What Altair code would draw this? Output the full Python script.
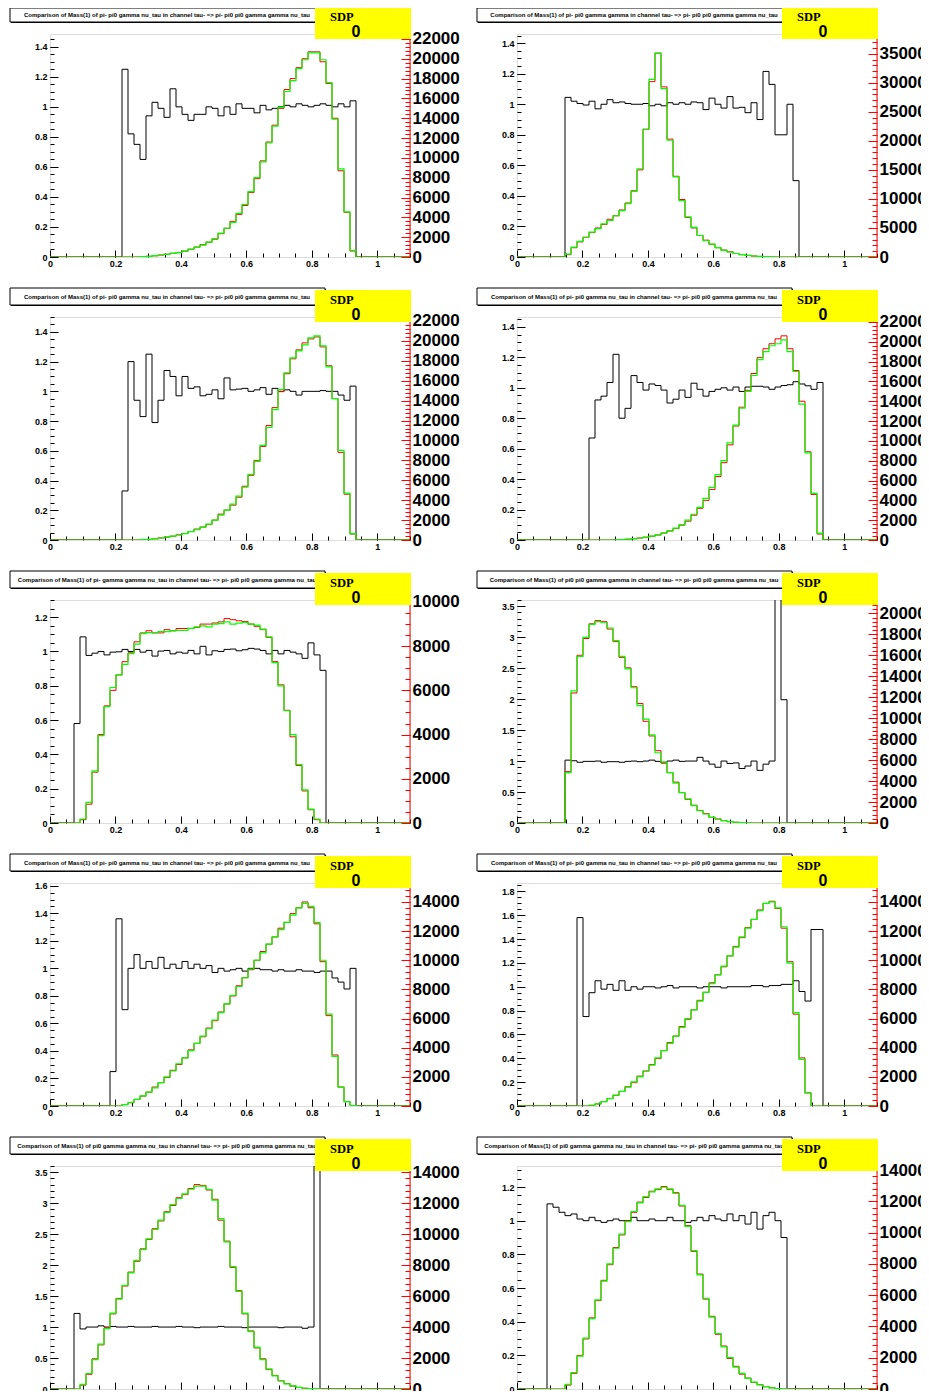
import altair as alt
import pandas as pd

N_BINS = 60
X_LO, X_HI = 0.0, 1.1

TITLES = [
    "Comparison of Mass(1) of pi- pi0 gamma nu_tau in channel tau- => pi- pi0 pi0 gamma gamma nu_tau",
    "Comparison of Mass(1) of pi- pi0 gamma gamma in channel tau- => pi- pi0 pi0 gamma gamma nu_tau",
    "Comparison of Mass(1) of pi- pi0 gamma nu_tau in channel tau- => pi- pi0 pi0 gamma gamma nu_tau",
    "Comparison of Mass(1) of pi- pi0 gamma nu_tau in channel tau- => pi- pi0 pi0 gamma gamma nu_tau",
    "Comparison of Mass(1) of pi- gamma gamma nu_tau in channel tau- => pi- pi0 pi0 gamma gamma nu_tau",
    "Comparison of Mass(1) of pi0 pi0 gamma gamma in channel tau- => pi- pi0 pi0 gamma gamma nu_tau",
    "Comparison of Mass(1) of pi- pi0 gamma nu_tau in channel tau- => pi- pi0 pi0 gamma gamma nu_tau",
    "Comparison of Mass(1) of pi- pi0 gamma nu_tau in channel tau- => pi- pi0 pi0 gamma gamma nu_tau",
    "Comparison of Mass(1) of pi0 gamma gamma nu_tau in channel tau- => pi- pi0 pi0 gamma gamma nu_tau",
    "Comparison of Mass(1) of pi0 gamma gamma nu_tau in channel tau- => pi- pi0 pi0 gamma gamma nu_tau",
]

# axis ranges (left = ratio, right = counts)
LEFT_MAX = [1.485, 1.46, 1.50, 1.465, 1.30, 3.6, 1.62, 1.87, 3.6, 1.325]
RIGHT_MAX = [22500, 38400, 22400, 22500, 10090, 21270, 15300, 15300, 14400, 14260]
LEFT_MAJOR = [0.2, 0.2, 0.2, 0.2, 0.2, 0.5, 0.2, 0.2, 0.5, 0.2]
LEFT_MINOR = [0.05, 0.05, 0.05, 0.05, 0.05, 0.1, 0.05, 0.05, 0.1, 0.05]
RIGHT_MAJOR = [2000, 5000, 2000, 2000, 2000, 2000, 2000, 2000, 2000, 2000]
RIGHT_MINOR = [400, 1000, 400, 400, 500, 400, 400, 400, 400, 400]

# first non-empty bin of each series (bin width 1.1/60)
BLACK_START = [12, 8, 12, 12, 4, 8, 10, 10, 4, 5]
GREEN_START = [15, 8, 15, 16, 5, 8, 12, 12, 5, 8]

# ratio histograms (black)
BLACK1 = [1.25, 0.82, 0.75, 0.65, 0.94, 1.03, 0.99, 0.93, 1.12, 1.00, 0.95, 0.91, 0.95, 0.95, 1.00,
          0.99, 0.94, 1.00, 0.95, 1.02, 0.99, 0.99, 0.96, 1.01, 0.98, 0.99, 1.00, 1.01, 1.00, 1.02,
          1.01, 1.00, 1.01, 1.02, 1.01, 1.00, 1.02, 1.00, 1.04]
BLACK2 = [1.045, 1.02, 1.005, 0.995, 1.02, 0.97, 1.0, 1.03, 1.01, 1.015, 1.005, 1.0, 1.0, 1.005, 0.99,
          1.0, 0.99, 1.01, 1.0, 1.01, 1.0, 1.015, 1.01, 0.965, 1.04, 1.0, 0.975, 1.05, 0.975, 0.98,
          0.945, 1.01, 0.9, 1.215, 1.13, 0.8, 0.8, 1.0, 0.5]
BLACK3 = [0.33, 1.2, 0.94, 0.83, 1.25, 0.79, 0.94, 1.14, 1.1, 0.97, 1.1, 1.02, 1.03, 0.97, 0.98,
          1.01, 0.95, 1.09, 1.01, 1.015, 1.02, 1.0, 1.01, 1.025, 0.98, 1.02, 1.0, 1.01, 1.0, 0.975,
          1.0, 1.0, 1.0, 1.005, 1.0, 1.0, 0.975, 0.94, 1.035]
BLACK4 = [0.67, 0.92, 0.945, 1.035, 1.22, 0.8, 0.865, 1.08, 1.035, 0.985, 1.025, 1.015, 0.985, 0.9, 0.925,
          0.985, 0.937, 1.03, 0.99, 0.945, 0.976, 0.99, 1.0, 0.985, 1.005, 0.976, 1.005, 1.01, 1.01, 1.005,
          0.99, 1.005, 1.015, 1.02, 1.04, 1.025, 1.013, 0.99, 1.035]
BLACK5 = [0.58, 1.085, 0.977, 0.99, 1.0, 0.98, 0.996, 0.998, 1.012, 1.0, 1.012, 0.996, 1.006, 0.973, 1.002,
          1.006, 0.986, 0.996, 0.99, 1.006, 0.986, 1.03, 0.98, 1.004, 1.0, 1.012, 1.014, 1.004, 1.01, 1.018,
          1.014, 1.006, 0.986, 1.006, 0.986, 1.006, 0.996, 0.986, 0.96, 1.05, 0.98, 0.89]
BLACK6 = [1.015, 1.005, 0.98, 0.995, 0.995, 1.0, 0.98, 0.99, 0.99, 0.98, 0.995, 1.0, 0.99, 1.0, 1.015,
          0.995, 0.98, 1.0, 1.015, 0.995, 1.0, 1.0, 1.06, 1.0, 0.95, 0.9, 1.0, 0.96, 0.97, 0.88,
          0.92, 1.0, 0.85, 0.95, 1.0, 4.2, 1.99]
BLACK7 = [0.25, 1.36, 0.7, 1.0, 1.1, 1.0, 1.05, 1.0, 1.08, 1.0, 1.03, 1.0, 1.05, 1.0, 1.03,
          1.0, 1.02, 0.97, 1.0, 0.98, 0.99, 1.0, 0.98, 1.0, 1.0, 0.99, 0.99, 0.98, 0.99, 0.98,
          0.98, 0.99, 0.98, 0.98, 0.97, 0.98, 0.98, 0.93, 0.9, 0.85, 1.0]
BLACK8 = [1.58, 0.75, 0.95, 1.05, 0.98, 1.02, 0.97, 1.05, 0.97, 1.0, 0.98, 1.0, 1.0, 0.99, 1.0,
          1.01, 0.99, 1.0, 1.0, 1.0, 0.99, 1.0, 1.0, 1.0, 0.99, 1.0, 1.0, 1.0, 1.0, 1.01,
          1.01, 1.0, 1.01, 1.01, 1.02, 1.02, 1.05, 0.96, 0.88, 1.48, 1.48]
BLACK9 = [1.22, 0.97, 1.0, 1.0, 1.02, 1.0, 1.01, 1.0, 1.0, 1.01, 1.0, 1.0, 1.0, 1.01, 1.0,
          1.0, 1.0, 1.01, 1.0, 1.0, 0.99, 1.0, 1.0, 1.0, 1.01, 1.0, 1.0, 1.0, 0.99, 1.0,
          1.0, 1.0, 1.0, 1.0, 0.99, 1.0, 1.0, 1.0, 0.98, 1.0, 5.0]
BLACK10 = [1.1, 1.08, 1.05, 1.03, 1.04, 1.01, 1.0, 1.02, 1.0, 0.99, 1.0, 1.01, 1.0, 1.0, 1.02,
           1.0, 1.0, 1.01, 1.0, 1.0, 1.02, 1.0, 1.0, 0.99, 1.0, 1.02, 1.0, 1.03, 1.01, 1.0,
           1.04, 1.0, 1.03, 0.98, 1.05, 0.95, 1.03, 1.05, 1.0, 0.9]

# green histograms (thousands of entries)
GREEN1 = [0.03, 0.07, 0.13, 0.2, 0.27, 0.37, 0.45, 0.6, 0.8, 1.0, 1.2, 1.5, 1.85, 2.4, 2.9,
          3.5, 4.4, 5.3, 6.6, 8.0, 9.6, 11.5, 13.2, 15.1, 16.7, 17.8, 19.0, 19.9, 20.6, 20.6,
          19.9, 17.6, 13.9, 8.9, 4.55, 0.67]
GREEN2 = [0.5, 1.7, 2.7, 3.4, 4.3, 4.9, 5.7, 6.3, 7.1, 8.0, 9.2, 11.3, 15.2, 22.0, 30.6,
          35.1, 29.0, 20.1, 13.8, 9.7, 6.9, 5.1, 3.7, 2.8, 2.2, 1.6, 1.15, 0.86, 0.6, 0.4,
          0.28, 0.17, 0.1, 0.05, 0.02]
GREEN3 = [0.03, 0.07, 0.12, 0.2, 0.28, 0.38, 0.5, 0.65, 0.85, 1.05, 1.3, 1.6, 2.0, 2.5, 3.0,
          3.6, 4.4, 5.3, 6.6, 7.9, 9.5, 11.3, 13.1, 15.1, 16.8, 18.3, 19.0, 19.6, 20.3, 20.5,
          19.5, 17.4, 14.2, 9.0, 4.7, 0.65]
GREEN4 = [0.02, 0.04, 0.08, 0.13, 0.2, 0.3, 0.4, 0.55, 0.72, 0.95, 1.2, 1.55, 2.0, 2.6, 3.3,
          4.2, 5.3, 6.6, 8.0, 9.8, 11.6, 13.3, 15.0, 16.6, 18.2, 19.0, 19.6, 19.8, 20.2, 19.0,
          17.0, 13.7, 8.8, 4.7, 0.7]
GREEN5 = [0.18, 0.93, 2.36, 3.95, 5.27, 6.13, 6.7, 7.18, 7.66, 8.09, 8.57, 8.61, 8.61, 8.66, 8.66,
          8.69, 8.72, 8.72, 8.81, 8.87, 8.92, 8.87, 9.0, 9.02, 9.1, 9.0, 9.04, 9.08, 9.0, 8.95,
          8.77, 8.42, 7.26, 6.2, 5.08, 4.0, 2.64, 1.5, 0.63, 0.18]
GREEN6 = [4.8, 12.6, 15.9, 17.7, 18.95, 19.2, 19.1, 18.6, 17.4, 15.9, 14.7, 12.9, 11.2, 9.9, 8.4,
          6.7, 5.8, 4.8, 3.8, 2.9, 2.3, 1.65, 1.17, 0.86, 0.54, 0.38, 0.22, 0.13, 0.07, 0.03, 0.01]
GREEN7 = [0.1, 0.25, 0.45, 0.7, 0.95, 1.25, 1.6, 2.0, 2.4, 2.9, 3.3, 3.8, 4.3, 4.8, 5.3,
          5.9, 6.4, 7.0, 7.6, 8.2, 8.8, 9.4, 10.0, 10.5, 11.1, 11.6, 12.1, 12.6, 13.1, 13.6,
          13.9, 13.7, 12.6, 10.0, 6.3, 3.4, 1.3, 0.3, 0.03]
GREEN8 = [0.05, 0.15, 0.3, 0.5, 0.75, 1.0, 1.3, 1.65, 2.0, 2.4, 2.8, 3.3, 3.8, 4.3, 4.8,
          5.4, 6.0, 6.6, 7.2, 7.8, 8.4, 9.0, 9.6, 10.3, 10.9, 11.6, 12.2, 12.8, 13.4, 13.9,
          14.0, 13.6, 12.3, 9.8, 6.4, 3.2, 0.9]
GREEN9 = [0.3, 1.0, 1.9, 2.9, 3.9, 4.9, 5.8, 6.7, 7.5, 8.3, 9.0, 9.7, 10.3, 10.9, 11.4,
          11.9, 12.3, 12.6, 12.9, 13.1, 13.1, 12.9, 12.2, 11.0, 9.5, 7.9, 6.3, 4.9, 3.7, 2.7,
          1.9, 1.3, 0.85, 0.55, 0.33, 0.2, 0.1, 0.05, 0.02, 0.01]
GREEN10 = [0.3, 1.05, 2.1, 3.25, 4.5, 5.7, 6.9, 8.0, 9.0, 9.9, 10.7, 11.35, 11.9, 12.3, 12.6,
           12.8, 12.9, 12.8, 12.5, 11.75, 10.4, 8.85, 7.3, 5.8, 4.6, 3.55, 2.7, 2.0, 1.4, 1.0,
           0.68, 0.44, 0.26, 0.15, 0.07, 0.03, 0.01]

# red histograms (thousands of entries)
RED1 = [0.03, 0.07, 0.12, 0.2, 0.28, 0.38, 0.47, 0.6, 0.78, 1.0, 1.25, 1.5, 1.8, 2.35, 2.9,
        3.6, 4.3, 5.2, 6.5, 7.9, 9.7, 11.6, 13.3, 15.0, 16.9, 18.0, 19.1, 20.0, 20.7, 20.7,
        19.7, 17.5, 14.0, 8.7, 4.5, 0.6]
RED2 = [0.4, 1.6, 2.6, 3.4, 4.2, 5.0, 5.6, 6.5, 7.1, 8.1, 9.3, 11.4, 15.0, 22.0, 30.2,
        35.1, 29.3, 20.3, 13.9, 9.9, 6.8, 5.0, 3.7, 2.9, 2.2, 1.6, 1.2, 0.9, 0.6, 0.4,
        0.28, 0.17, 0.1, 0.05, 0.02]
RED3 = [0.03, 0.06, 0.12, 0.21, 0.3, 0.38, 0.52, 0.66, 0.85, 1.1, 1.3, 1.55, 2.0, 2.6, 3.0,
        3.5, 4.3, 5.4, 6.5, 8.0, 9.4, 11.5, 13.3, 14.9, 16.7, 18.2, 19.1, 19.8, 20.2, 20.4,
        19.4, 17.5, 14.2, 8.8, 4.6, 0.6]
RED4 = [0.02, 0.04, 0.07, 0.12, 0.2, 0.28, 0.38, 0.5, 0.7, 0.9, 1.15, 1.5, 1.9, 2.5, 3.2,
        4.0, 5.1, 6.4, 7.8, 9.6, 11.5, 13.4, 15.1, 16.8, 18.4, 19.3, 19.8, 20.3, 20.6, 19.3,
        17.1, 14.0, 8.9, 4.6, 0.6]
RED5 = [0.15, 0.85, 2.3, 4.0, 5.3, 6.0, 6.7, 7.3, 7.7, 8.2, 8.6, 8.7, 8.6, 8.6, 8.75,
        8.7, 8.8, 8.8, 8.8, 8.85, 9.0, 9.0, 9.05, 9.1, 9.25, 9.2, 9.15, 9.12, 9.0, 8.9,
        8.75, 8.4, 7.3, 6.25, 5.1, 3.9, 2.6, 1.45, 0.6, 0.15]
RED6 = [4.9, 12.4, 16.0, 17.6, 19.0, 19.3, 19.2, 18.5, 17.3, 15.8, 14.8, 13.0, 11.4, 9.7, 8.3,
        6.9, 5.7, 4.8, 3.9, 2.9, 2.25, 1.7, 1.2, 0.9, 0.55, 0.38, 0.22, 0.13, 0.07, 0.03, 0.01]
RED7 = [0.1, 0.22, 0.45, 0.68, 0.95, 1.3, 1.6, 1.95, 2.45, 2.85, 3.3, 3.85, 4.3, 4.75, 5.35,
        5.85, 6.45, 7.0, 7.55, 8.25, 8.8, 9.35, 10.0, 10.6, 11.1, 11.6, 12.2, 12.6, 13.2, 13.6,
        14.0, 13.6, 12.5, 9.9, 6.2, 3.5, 1.3, 0.3, 0.03]
RED8 = [0.05, 0.14, 0.3, 0.52, 0.73, 1.0, 1.32, 1.6, 2.05, 2.4, 2.85, 3.25, 3.8, 4.35, 4.8,
        5.45, 5.95, 6.6, 7.25, 7.8, 8.45, 9.0, 9.55, 10.3, 10.95, 11.55, 12.25, 12.8, 13.45, 13.9,
        14.05, 13.55, 12.2, 9.9, 6.3, 3.3, 0.9]
RED9 = [0.25, 0.95, 1.95, 2.85, 3.95, 4.85, 5.85, 6.65, 7.55, 8.25, 9.05, 9.65, 10.35, 10.85, 11.45,
        11.85, 12.35, 12.55, 12.95, 13.2, 13.15, 12.85, 12.25, 10.9, 9.55, 7.85, 6.35, 4.85, 3.75, 2.65,
        1.95, 1.25, 0.88, 0.52, 0.35, 0.18, 0.1, 0.05, 0.02, 0.01]
RED10 = [0.25, 1.0, 2.15, 3.2, 4.55, 5.65, 6.95, 7.95, 9.05, 9.85, 10.75, 11.3, 11.95, 12.25, 12.65,
         12.75, 12.95, 12.75, 12.55, 11.7, 10.45, 8.8, 7.35, 5.75, 4.65, 3.5, 2.75, 1.95, 1.45, 0.95,
         0.7, 0.42, 0.28, 0.14, 0.08, 0.03, 0.01]

BLACKS = [BLACK1, BLACK2, BLACK3, BLACK4, BLACK5, BLACK6, BLACK7, BLACK8, BLACK9, BLACK10]
GREENS = [GREEN1, GREEN2, GREEN3, GREEN4, GREEN5, GREEN6, GREEN7, GREEN8, GREEN9, GREEN10]
REDS = [RED1, RED2, RED3, RED4, RED5, RED6, RED7, RED8, RED9, RED10]

X_MAJOR = [0, 0.2, 0.4, 0.6, 0.8, 1.0]

W, H = 360, 223
FONT = "Liberation Sans"


def step_table(start, vals, factor=1.0):
    heights = [0.0] * N_BINS
    for i, v in enumerate(vals):
        heights[start + i] = v * factor
    edges = [X_LO + (X_HI - X_LO) * i / N_BINS for i in range(N_BINS + 1)]
    return pd.DataFrame({"x": edges, "y": heights + [heights[-1]]})


def ticks(step, top):
    n = int(top / step + 1e-9)
    return [round(i * step, 6) for i in range(n + 1)]


AX = dict(grid=False, domain=False, labelFont=FONT, labelFontWeight="bold",
          labelColor="black", tickColor="black", labelFlush=False, labelOverlap=False)


def panel(i, tb_top, yb_top):
    xs = alt.Scale(domain=[X_LO, X_HI], nice=False, zero=False)
    ls = alt.Scale(domain=[0, LEFT_MAX[i]], nice=False)
    rs = alt.Scale(domain=[0, RIGHT_MAX[i]], nice=False)

    black = step_table(BLACK_START[i], BLACKS[i])
    red = step_table(GREEN_START[i], REDS[i], 1000.0)
    green = step_table(GREEN_START[i], GREENS[i], 1000.0)

    x_major = alt.Axis(values=X_MAJOR, format="~g", orient="bottom", offset=-7, tickSize=7,
                       labelPadding=2, labelFontSize=9, **AX)
    x_minor = alt.Axis(values=ticks(0.05, 1.1), labels=False, orient="bottom", offset=-4,
                       tickSize=4, **AX)
    l_major = alt.Axis(values=ticks(LEFT_MAJOR[i], LEFT_MAX[i]), format="~g", orient="left",
                       offset=-8, tickSize=8, labelPadding=3, labelFontSize=9, **AX)
    l_minor = alt.Axis(values=ticks(LEFT_MINOR[i], LEFT_MAX[i]), labels=False, orient="left",
                       offset=-4, tickSize=4, **AX)
    rax = dict(AX)
    rax["tickColor"] = "#ff0000"
    r_major = alt.Axis(values=ticks(RIGHT_MAJOR[i], RIGHT_MAX[i]), format="d", orient="right",
                       offset=-9, tickSize=9, labelPadding=2, labelFontSize=17, **rax)
    r_minor = alt.Axis(values=ticks(RIGHT_MINOR[i], RIGHT_MAX[i]), labels=False, orient="right",
                       offset=-5, tickSize=5, **rax)

    def line(df, color, xaxis, yaxis, scale, width=1.0, opacity=1.0):
        xenc = alt.X("x:Q", scale=xs, title=None, axis=xaxis) if xaxis is not None else \
            alt.X("x:Q", scale=xs, title=None, axis=None)
        yenc = alt.Y("y:Q", scale=scale, title=None, axis=yaxis) if yaxis is not None else \
            alt.Y("y:Q", scale=scale, title=None, axis=None)
        return alt.Chart(df).mark_line(interpolate="step-after", color=color, strokeWidth=width,
                                       opacity=opacity, clip=True).encode(x=xenc, y=yenc)

    l_black = line(black, "black", x_major, l_major, ls)
    l_black_minor = line(black, "black", x_minor, l_minor, ls, opacity=0.0)
    l_red = line(red, "#ff0000", None, r_major, rs)
    l_red_minor = line(red, "#ff0000", None, r_minor, rs, opacity=0.0)
    l_green = line(green, "#00ff00", None, None, rs, width=1.2)

    one = pd.DataFrame({"a": [0]})
    rframe = alt.Chart(one).mark_rule(color="#ff0000", strokeWidth=1).encode(
        x=alt.value(W), y=alt.value(0), y2=alt.value(H))
    shadow = alt.Chart(one).mark_rect(color="black").encode(
        x=alt.value(-39), x2=alt.value(276), y=alt.value(tb_top + 1), y2=alt.value(-11))
    tbox = alt.Chart(one).mark_rect(fill="white", stroke="black", strokeWidth=1).encode(
        x=alt.value(-40), x2=alt.value(275), y=alt.value(tb_top), y2=alt.value(-12))
    ttext = alt.Chart(one).mark_text(text=TITLES[i], font=FONT, fontWeight="bold", fontSize=6.0,
                                     align="center", baseline="middle", color="black").encode(
        x=alt.value(117), y=alt.value((tb_top - 12) / 2.0))
    yellow = alt.Chart(one).mark_rect(color="#ffff00").encode(
        x=alt.value(265), x2=alt.value(361), y=alt.value(yb_top), y2=alt.value(5))
    sdp = alt.Chart(one).mark_text(text="SDP", font="Liberation Serif", fontWeight="bold",
                                   fontSize=12.5, align="left", baseline="alphabetic",
                                   color="black").encode(x=alt.value(280), y=alt.value(-13))
    zero = alt.Chart(one).mark_text(text="0", font=FONT, fontWeight="bold", fontSize=16,
                                    align="center", baseline="alphabetic", color="black").encode(
        x=alt.value(306), y=alt.value(3))

    return alt.layer(l_black, l_black_minor, l_red, l_red_minor, l_green, rframe,
                     shadow, tbox, ttext, yellow, sdp, zero).resolve_scale(
        y="independent").resolve_axis(x="independent", y="independent").properties(width=W, height=H)


panels = []
for i in range(10):
    tb_top = -26 if i < 2 else -29
    yb_top = -26 if i < 2 else -27
    panels.append(panel(i, tb_top, yb_top))

chart = alt.concat(*panels, columns=2, spacing={"row": 60, "column": 107}, bounds="flush").properties(
    autosize=alt.AutoSizeParams(type="none"),
    padding={"left": 42, "top": 26, "right": 871, "bottom": 1357}
).configure_view(stroke="#555555", strokeWidth=1).configure(font=FONT)

chart.save("out.html", embed_options={"renderer": "svg", "actions": False})
